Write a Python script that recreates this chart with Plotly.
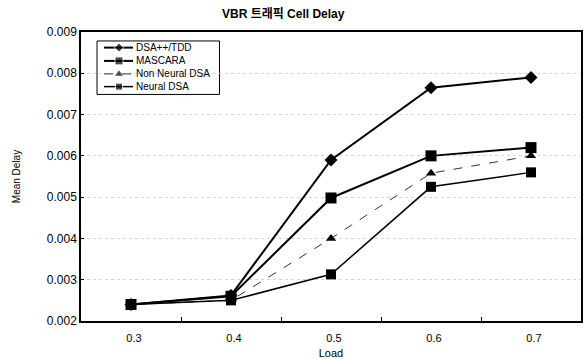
import plotly.graph_objects as go

# Offered load (x axis categories)
load = [0.3, 0.4, 0.5, 0.6, 0.7]

# Mean cell delay per scheme
dsa_tdd = [0.0024, 0.00262, 0.0059, 0.00765, 0.0079]
mascara = [0.0024, 0.0026, 0.00498, 0.006, 0.0062]
non_neural_dsa = [0.0024, 0.0025, 0.004, 0.00558, 0.006]
neural_dsa = [0.0024, 0.0025, 0.00313, 0.00525, 0.0056]

series_names = ["DSA++/TDD", "MASCARA", "Non Neural DSA", "Neural DSA"]
series_values = [dsa_tdd, mascara, non_neural_dsa, neural_dsa]

y_ticks = [0.002, 0.003, 0.004, 0.005, 0.006, 0.007, 0.008, 0.009]

FONT = "Liberation Sans, Arial, Noto Sans CJK KR, sans-serif"

# Per-series drawing style
styles = [
    dict(line=dict(color="black", width=2), symbol="diamond", size=10),
    dict(line=dict(color="black", width=2), symbol="square", size=11),
    dict(line=dict(color="#333333", width=1, dash="dash"), symbol="triangle-up", size=9),
    dict(line=dict(color="black", width=1.5), symbol="square", size=10),
]

fig = go.Figure()
for name, vals, st in zip(series_names, series_values, styles):
    fig.add_trace(go.Scatter(
        x=load, y=vals, name=name, mode="lines+markers",
        line=st["line"],
        marker=dict(symbol=st["symbol"], size=st["size"], color="black"),
        showlegend=False,
    ))

# Compact boxed legend, drawn on an overlay axis spanning the plot area (0..1)
box_x0, box_x1, box_y0, box_y1 = 0.032, 0.277, 0.784, 0.969
row_y = [0.946, 0.900, 0.855, 0.811]
sample_x = [0.046, 0.076, 0.104]
text_x = 0.106
fig.add_shape(type="rect", xref="paper", yref="paper",
              x0=box_x0, x1=box_x1, y0=box_y0, y1=box_y1,
              line=dict(color="black", width=1), fillcolor="white", layer="between")
for name, st, ry in zip(series_names, styles, row_y):
    fig.add_trace(go.Scatter(
        x=sample_x, y=[ry] * 3, xaxis="x2", yaxis="y2", mode="lines+markers",
        line=st["line"],
        marker=dict(symbol=st["symbol"], size=[0, st["size"] - 3, 0], color="black"),
        showlegend=False, hoverinfo="skip",
    ))
    fig.add_annotation(text=name, xref="paper", yref="paper", x=text_x, y=ry,
                       xanchor="left", yanchor="middle", showarrow=False,
                       font=dict(size=10, family=FONT, color="black"))

fig.update_layout(
    width=584, height=359,
    margin=dict(l=81, r=1, t=32, b=38),
    paper_bgcolor="white", plot_bgcolor="white",
    font=dict(family=FONT, color="black", size=11),
    title=dict(text="<b>VBR 트래픽 Cell Delay</b>", x=0.485, xanchor="center",
               y=0.962, yanchor="middle", font=dict(size=12)),
    showlegend=False,
    xaxis=dict(
        range=[0.25, 0.75], tickvals=load, ticktext=[f"{v:.1f}" for v in load],
        ticks="", showgrid=False, zeroline=False,
        showline=True, linecolor="black", linewidth=1.5, mirror=True,
        tickfont=dict(size=11), ticklabelshift=3, ticklabelstandoff=6,
        minor=dict(tickvals=[0.35, 0.45, 0.55, 0.65], ticks="inside",
                   ticklen=4, tickcolor="black", showgrid=False),
        title=dict(text="Load", font=dict(size=11), standoff=6),
    ),
    yaxis=dict(
        range=[0.002, 0.009], tickvals=y_ticks,
        ticktext=[f"{v:.3f}" for v in y_ticks],
        ticks="inside", ticklen=3, tickcolor="black",
        showgrid=True, gridcolor="#d4d4d4", griddash="dot", gridwidth=1,
        zeroline=False,
        showline=True, linecolor="black", linewidth=1.5, mirror=True,
        tickfont=dict(size=12),
        title=dict(text="Mean Delay", font=dict(size=10), standoff=24),
    ),
    xaxis2=dict(overlaying="x", range=[0, 1], visible=False, fixedrange=True),
    yaxis2=dict(overlaying="y", range=[0, 1], visible=False, fixedrange=True),
)

fig.write_html("out.html")
